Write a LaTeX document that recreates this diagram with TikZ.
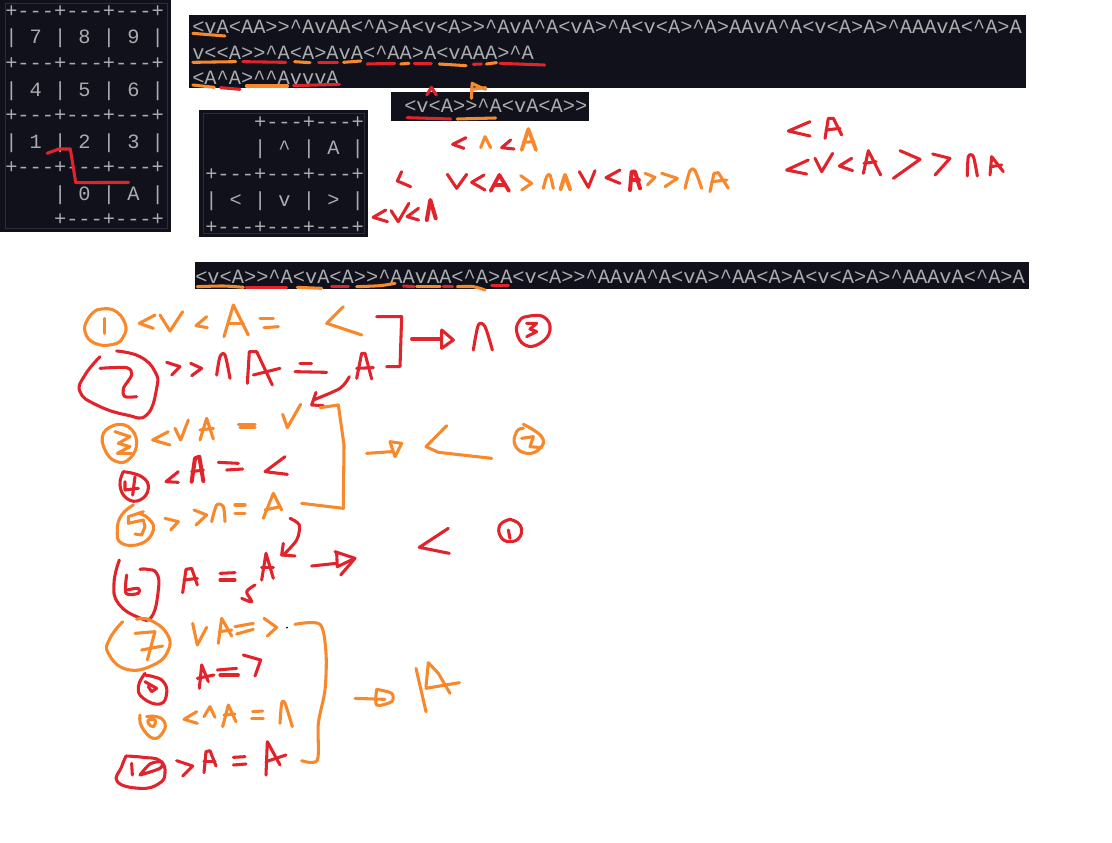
\documentclass[tikz,border=0pt]{standalone}
\usepackage{fontspec}
\newfontfamily\termfont{Liberation Mono}
\definecolor{panel}{HTML}{10111A}
\definecolor{panelb}{HTML}{2C2D3A}
\definecolor{termtext}{HTML}{ABACAF}
\definecolor{penred}{HTML}{E1232B}
\definecolor{penor}{HTML}{F7882B}
\newcommand\cc{\textasciicircum{}}
\tikzset{
  term/.style={anchor=west,inner sep=0pt,text=termtext,font=\termfont\fontsize{15.25pt}{15.25pt}\selectfont},
  handline/.style={line width=2.3pt,line cap=round,line join=round},
}
\newcommand\rs[1]{\draw[handline,penred] plot[smooth,tension=.5] coordinates {#1};}
\newcommand\os[1]{\draw[handline,penor] plot[smooth,tension=.5] coordinates {#1};}
\newcommand\rc[1]{\draw[handline,penred] plot[smooth,tension=.8] coordinates {#1};}
\newcommand\oc[1]{\draw[handline,penor] plot[smooth,tension=.8] coordinates {#1};}
\newcommand\rl[1]{\draw[handline,penred] plot coordinates {#1};}
\newcommand\ol[1]{\draw[handline,penor] plot coordinates {#1};}
\begin{document}
\begin{tikzpicture}[x=.75pt,y=-.75pt]
\useasboundingbox (0,0) rectangle (1112,842);
\fill[white] (0,0) rectangle (1112,842);
% panels
\fill[panel] (0,0) rectangle (171,232);
\draw[panelb,line width=.7pt] (5,3) rectangle (167,228);
\fill[panel] (189,15) rectangle (1026,88);
\fill[panel] (391,92) rectangle (589,121);
\fill[panel] (199,110) rectangle (368,237);
\draw[panelb,line width=.7pt] (203,113) rectangle (364,233);
\fill[panel] (195,262) rectangle (1029,289);
% numeric keypad
\node[term] (n1) at (5,12) {+---+---+---+};
\node[term] (n2) at (5,38) {| 7 | 8 | 9 |};
\node[term] (n3) at (5,64) {+---+---+---+};
\node[term] (n4) at (5,91) {| 4 | 5 | 6 |};
\node[term] (n5) at (5,116) {+---+---+---+};
\node[term] (n6) at (5,143) {| 1 | 2 | 3 |};
\node[term] (n7) at (5,168) {+---+---+---+};
\node[term] (n8) at (5,195) {~~~~| 0 | A |};
\node[term] (n9) at (5,220) {~~~~+---+---+};
% direction keypad
\node[term] (d1) at (205,123) {~~~~+---+---+};
\node[term] (d2) at (205,149) {~~~~| \cc{} | A |};
\node[term] (d3) at (205,175) {+---+---+---+};
\node[term] (d4) at (205,201) {| < | v | > |};
\node[term] (d5) at (205,228) {+---+---+---+};
% sequences
\node[term] (s1) at (192,27) {<vA<AA>>\cc AvAA<\cc A>A<v<A>>\cc AvA\cc A<vA>\cc A<v<A>\cc A>AAvA\cc A<v<A>A>\cc AAAvA<\cc A>A};
\node[term] (s2) at (192,53) {v<<A>>\cc A<A>AvA<\cc AA>A<vAAA>\cc A};
\node[term] (s3) at (192,78) {<A\cc A>\cc\cc AvvvA};
\node[term] (s4) at (404,106) {<v<A>>\cc A<vA<A>>};
\node[term] (s5) at (195,277) {<v<A>>\cc A<vA<A>>\cc AAvAA<\cc A>A<v<A>>\cc AAvA\cc A<vA>\cc AA<A>A<v<A>A>\cc AAAvA<\cc A>A};
% ---- zoom 1 region
\begin{scope}[x=.75pt/2.8,y=-.75pt/3]
\rl{(132,460)(165,447)(197,447)(212,548)(360,547)}
\ol{(540,100)(630,108)}
\ol{(540,187)(660,185)} \rl{(680,185)(800,187)} \ol{(825,185)(868,188)}
\rl{(892,187)(945,187)} \ol{(962,187)(1010,183)} \rl{(1028,192)(1105,190)}
\ol{(1122,192)(1145,190)} \rl{(1160,190)(1208,190)} \ol{(1230,192)(1305,197)}
\rl{(1325,193)(1348,192)} \ol{(1362,192)(1390,188)} \rl{(1400,190)(1525,195)}
\ol{(540,255)(600,262)} \rl{(618,263)(672,268)} \ol{(690,258)(805,258)} \rl{(822,257)(950,253)}
\rl{(1195,285)(1208,262)(1222,285)}
\ol{(1320,295)(1322,250)(1345,262)(1360,268)} \ol{(1320,268)(1360,263)}
\rl{(1140,353)(1262,357)} \ol{(1280,357)(1388,354)}
\rl{(1080,630)(1045,652)(1085,665)}
\rl{(1095,632)(1115,665)(1145,610)}
\rl{(1172,625)(1140,650)(1172,660)}
\draw[handline,penred,line width=3pt] (1195,660)--(1205,600)--(1220,655);
\end{scope}
% ---- row of hand notes under the small bar
\begin{scope}[shift={(390,125)},x=.25pt,y=-.25pt]
\rl{(228,38)(188,58)(222,70)}
\ol{(272,68)(285,35)(302,68)}
\rl{(362,45)(335,68)(372,72)}
\draw[handline,penor,line width=2.8pt] (395,75)--(415,12)--(438,75);
\ol{(400,52)(432,50)}
\rl{(35,140)(22,168)(62,185)}
\rl{(172,148)(200,190)(230,148)}
\rl{(282,150)(245,172)(285,195)}
\draw[handline,penred,line width=2.8pt] (302,198)--(328,150)--(357,198);
\rl{(312,180)(345,180)}
\ol{(392,152)(425,175)(395,195)}
\os{(460,190)(470,155)(480,150)(490,190)}
\draw[handline,penor,line width=3pt] (512,192)--(525,150)--(540,192);
\end{scope}
% ---- zoom 2 region
\begin{scope}[shift={(560,0)},x=.25pt,y=-.25pt]
\rl{(58,515)(85,562)(105,512)}
\rl{(180,510)(138,533)(180,550)}
\draw[handline,penred,line width=3pt] (210,570)--(215,515)--(225,515)--(240,565);
\rl{(212,540)(238,540)}
\ol{(255,520)(285,532)(262,555)}
\ol{(305,520)(352,535)(315,560)}
\os{(375,565)(390,512)(405,512)(425,565)}
\ol{(450,575)(462,520)(475,518)(505,565)} \ol{(455,545)(500,540)}
\rl{(750,365)(685,393)(750,408)}
\rl{(795,415)(805,355)(820,355)(845,405)} \rl{(798,390)(840,385)}
\rl{(745,480)(680,510)(740,522)}
\rl{(765,475)(785,515)(818,460)}
\rl{(875,475)(838,498)(878,512)}
\rl{(910,520)(925,452)(962,525)} \rl{(912,490)(948,485)}
\rl{(1020,452)(1080,478)(1000,535)}
\rl{(1118,462)(1170,475)(1125,525)}
\rs{(1222,528)(1225,470)(1240,470)(1252,528)}
\rl{(1290,525)(1295,470)(1330,515)} \rl{(1292,500)(1325,495)}
\end{scope}
% ---- zoom 3 region
\begin{scope}[shift={(60,255)},x=.25pt,y=-.25pt]
\os{(412,95)(490,93)(550,97)} \rl{(558,97)(680,97)} \ol{(712,97)(785,100)}
\rl{(815,95)(865,95)} \os{(890,95)(960,92)(1005,85)} \rl{(1030,93)(1062,95)}
\ol{(1070,95)(1140,95)} \rl{(1150,95)(1178,95)} \os{(1192,95)(1240,95)(1275,105)} \rl{(1295,92)(1345,92)}
\oc{(110,165)(160,165)(195,205)(190,245)(160,268)(105,265)(75,230)(85,190)(110,165)}
\ol{(133,190)(133,235)}
\ol{(285,180)(238,205)(280,220)}
\ol{(300,180)(330,228)(368,170)}
\ol{(440,185)(408,212)(442,218)}
\ol{(492,245)(520,150)(565,240)} \ol{(505,205)(550,205)}
\ol{(600,190)(640,190)} \ol{(612,218)(655,215)}
\ol{(850,155)(800,205)(905,240)}
\rl{(950,185)(1025,185)(1020,335)(980,335)}
\rl{(1055,252)(1145,252)} \rl{(1145,225)(1180,255)(1145,280)(1145,225)}
\rs{(1240,285)(1255,210)(1275,215)(1297,285)}
\rc{(1400,185)(1450,185)(1470,225)(1440,265)(1395,270)(1370,230)(1380,195)(1400,185)}
\rl{(1400,205)(1430,205)(1410,222)(1430,230)(1400,245)}
\rc{(120,305)(75,360)(60,410)(110,450)(200,480)(260,480)(290,400)(285,350)(240,305)(170,288)}
\rs{(120,340)(200,338)(215,360)(190,400)(195,425)(230,425)}
\rl{(320,322)(360,335)(335,360)} \rl{(392,325)(425,340)(395,362)}
\rs{(470,360)(480,305)(495,300)(510,370)}
\rl{(562,385)(568,290)(590,290)(637,390)} \rl{(580,360)(660,340)}
\rl{(720,325)(755,325)} \rl{(705,350)(800,352)}
\rl{(890,370)(905,295)(915,295)(935,372)} \rl{(890,340)(940,338)}
\rs{(868,365)(840,400)(760,435)} \rl{(768,412)(755,450)(790,452)}
\ol{(780,458)(835,450)(852,570)(850,760)(725,745)}
\oc{(165,510)(205,515)(230,560)(210,610)(170,620)(135,585)(130,535)(165,510)}
\ol{(165,530)(210,545)(175,565)(210,575)(172,595)(215,595)}
\ol{(325,530)(278,555)(330,570)}
\ol{(345,520)(362,555)(385,495)}
\ol{(420,555)(440,490)(460,552)} \ol{(420,525)(460,520)}
\ol{(535,508)(585,508)} \ol{(540,518)(585,518)}
\ol{(668,478)(682,518)(722,448)}
\ol{(920,595)(995,590)} \ol{(990,560)(1025,565)(1005,605)(990,560)}
\ol{(1160,512)(1098,575)(1135,592)(1295,610)}
\oc{(1390,508)(1445,545)(1440,580)(1400,595)(1365,570)(1370,530)(1390,520)}
\ol{(1385,550)(1420,545)(1410,575)(1445,578)}
\rc{(190,650)(180,690)(200,730)(240,735)(265,700)(245,665)(190,650)}
\rl{(195,680)(195,705)(235,700)} \rl{(225,665)(218,720)}
\rl{(355,650)(318,680)(355,682)}
\draw[handline,penred,line width=3pt] (395,680)--(405,610)--(418,605)--(430,678);
\rl{(395,650)(430,645)}
\rl{(475,622)(535,625)} \rl{(500,645)(548,642)}
\rl{(675,605)(615,650)(682,658)}
\end{scope}
% ---- circle five and its arrows
\begin{scope}[shift={(100,490)},x=.25pt,y=-.25pt]
\oc{(100,45)(65,75)(52,120)(65,160)(125,160)(160,120)(145,85)(115,70)}
\ol{(130,65)(85,80)(85,100)(130,90)(135,110)(125,135)(105,132)}
\ol{(195,85)(235,95)(212,120)}
\ol{(282,60)(320,75)(288,105)}
\end{scope}
% ---- zoom 4 region
\begin{scope}[shift={(60,510)},x=.25pt,y=-.25pt]
\os{(455,35)(470,-15)(490,-10)(495,35)}
\ol{(525,10)(555,10)} \ol{(525,-15)(555,-15)}
\ol{(610,25)(640,-50)(665,0)} \ol{(615,0)(660,-10)}
\rs{(690,25)(718,45)(710,90)(670,135)} \rl{(670,100)(665,135)(705,138)}
\rc{(178,150)(162,220)(175,280)(235,322)(275,320)(295,240)(290,190)(262,178)(240,178)}
\rs{(200,195)(198,250)(235,250)(235,235)(200,240)}
\rl{(368,248)(378,178)(395,175)(412,225)} \rl{(372,210)(412,205)}
\rl{(480,190)(525,188)} \rl{(480,210)(525,210)}
\rl{(605,210)(618,130)(640,205)} \rl{(605,172)(640,172)}
\rs{(585,225)(560,245)(575,275)(545,265)}
\rl{(755,168)(830,160)} \rl{(825,125)(885,145)(842,195)} \rl{(830,130)(832,170)(885,145)}
\rl{(1165,55)(1078,112)(1168,130)}
\rc{(1350,28)(1380,45)(1380,80)(1350,95)(1322,80)(1320,45)(1350,28)} \rl{(1345,60)(1350,85)}
\oc{(188,335)(150,385)(145,430)(200,478)(280,465)(325,420)(320,370)(270,330)(230,328)}
\ol{(225,370)(285,365)(262,450)} \ol{(245,420)(308,408)}
\ol{(398,340)(412,405)(440,352)}
\ol{(475,400)(485,325)(515,378)} \ol{(478,365)(515,360)}
\ol{(525,350)(580,340)} \ol{(530,372)(580,358)}
\ol{(612,325)(650,352)(622,378)}
\fill[black] (681,353) circle (3);
\os{(705,343)(780,343)(798,430)(795,540)(775,640)(772,750)(725,752)}
\rl{(418,535)(425,465)(445,515)} \rl{(412,505)(462,495)}
\rl{(472,480)(530,475)} \rl{(480,495)(535,495)}
\rl{(550,435)(602,450)(585,498)}
\ol{(410,605)(372,628)(412,640)}
\ol{(432,620)(450,590)(465,622)}
\ol{(488,650)(505,585)(528,635)} \ol{(492,615)(525,612)}
\ol{(578,605)(608,603)} \ol{(575,625)(610,625)}
\os{(660,640)(665,580)(675,580)(697,650)}
\rl{(350,752)(398,768)(368,798)}
\rl{(432,788)(438,725)(450,722)(468,768)} \rl{(432,755)(465,755)}
\rl{(520,742)(555,740)} \rl{(520,765)(558,762)}
\rl{(618,795)(622,695)(660,765)} \rl{(618,755)(678,735)}
\ol{(885,565)(975,568)} \os{(950,538)(995,550)(995,575)(950,585)(950,538)}
\ol{(1068,475)(1098,605)} \ol{(1098,530)(1105,458)(1135,490)(1170,550)} \ol{(1098,535)(1198,518)}
% circle ten
\rc{(198,738)(250,742)(300,752)(315,790)(295,822)(240,835)(172,815)(185,770)(198,738)}
\rl{(215,760)(217,795)}
\rs{(240,795)(270,762)(305,755)(300,775)(240,795)}
\end{scope}
% ---- circles eight, nine
\begin{scope}[shift={(120,670)},x=.25pt,y=-.25pt]
\rc{(75,10)(55,50)(70,85)(120,102)(140,70)(130,35)(100,20)(70,15)}
\rl{(75,35)(110,55)(95,65)(85,50)}
\oc{(60,135)(65,170)(100,205)(130,185)(133,155)(110,140)(80,140)}
\oc{(85,150)(105,150)(100,170)(85,160)(85,150)}
\end{scope}
\end{tikzpicture}
\end{document}
